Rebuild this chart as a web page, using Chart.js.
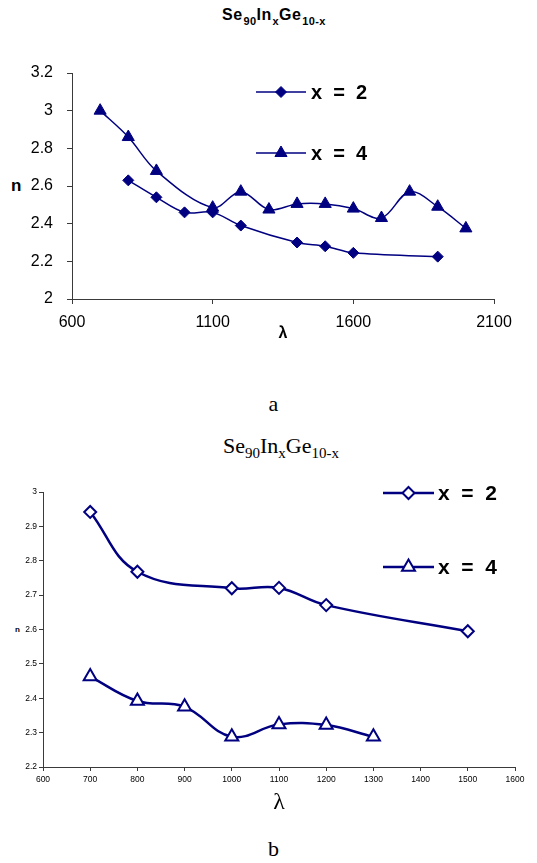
<!DOCTYPE html>
<html><head><meta charset="utf-8">
<script src="https://cdn.jsdelivr.net/npm/chart.js@4.4.1/dist/chart.umd.min.js"></script>
<style>
html,body{margin:0;padding:0;background:#fff;}
#page{position:relative;width:537px;height:863px;overflow:hidden;background:#fff;}
.abs{position:absolute;white-space:nowrap;color:#000;line-height:1;}
.ta{font-family:"Liberation Sans",Arial,sans-serif;font-weight:bold;font-size:16px;letter-spacing:0.4px;}
.ta sub{font-size:11px;vertical-align:-5px;line-height:0;margin-left:1px;}
.tb{font-family:"Liberation Serif","Times New Roman",serif;font-size:22px;}
.tb sub{font-size:15px;vertical-align:-5px;line-height:0;}
.cap{font-family:"Liberation Serif","Times New Roman",serif;font-size:22px;}
.box{position:absolute;left:0;width:537px;}
</style>
</head>
<body>
<div id="page">
  <div class="abs ta" style="left:0;width:548px;text-align:center;top:7px;">Se<sub>90</sub>In<sub>x</sub>Ge<sub>10-x</sub></div>
  <div class="abs" style="left:11px;top:176px;font:bold 17px 'Liberation Sans',Arial,sans-serif;">n</div>
  <div class="box" style="top:40px;height:310px;"><canvas id="chartA"></canvas></div>
  <div class="abs cap" style="left:0;width:547px;text-align:center;top:393px;">a</div>
  <div class="abs tb" style="left:0;width:562px;text-align:center;top:435px;">Se<sub>90</sub>In<sub>x</sub>Ge<sub>10-x</sub></div>
  <div class="abs" style="left:15px;top:625px;font:bold 8px 'Liberation Sans',Arial,sans-serif;">n</div>
  <div class="box" style="top:470px;height:350px;"><canvas id="chartB"></canvas></div>
  <div class="abs cap" style="left:0;width:547px;text-align:center;top:838px;">b</div>
</div>
<script>
// ---- data (chart a) ----
const lambdaA_x2 = [800, 900, 1000, 1100, 1200, 1400, 1500, 1600, 1900];
const nA_x2      = [2.63, 2.54, 2.46, 2.46, 2.39, 2.30, 2.28, 2.245, 2.225];
const lambdaA_x4 = [700, 800, 900, 1100, 1200, 1300, 1400, 1500, 1600, 1700, 1800, 1900, 2000];
const nA_x4      = [3.00, 2.86, 2.68, 2.485, 2.57, 2.475, 2.505, 2.505, 2.48, 2.43, 2.57, 2.49, 2.375];
const xTicksA = [600, 1100, 1600, 2100];
const yTicksA = [2, 2.2, 2.4, 2.6, 2.8, 3, 3.2];
// ---- data (chart b) ----
const lambdaB_x2 = [700, 800, 1000, 1100, 1200, 1500];
const nB_x2      = [2.942, 2.768, 2.72, 2.721, 2.671, 2.595];
const lambdaB_x4 = [700, 800, 900, 1000, 1100, 1200, 1300];
const nB_x4      = [2.463, 2.392, 2.375, 2.288, 2.324, 2.322, 2.288];
const xTicksB = [600, 700, 800, 900, 1000, 1100, 1200, 1300, 1400, 1500, 1600];
const yTicksB = [2.2, 2.3, 2.4, 2.5, 2.6, 2.7, 2.8, 2.9, 3];
const seriesLabels = ['x = 2', 'x = 4'];

const NAVY = '#000080';
const AXIS = '#3a3a3a';
const SANS = "'Liberation Sans', Arial, sans-serif";
const SERIF = "'Liberation Serif', 'Times New Roman', serif";

const pts = (xs, ys) => xs.map((x, i) => ({x, y: ys[i]}));
const setTicks = arr => s => { s.ticks = arr.map(v => ({value: v})); };

function drawMarker(ctx, style, r, x, y, fill, bw) {
  ctx.save();
  ctx.fillStyle = fill; ctx.strokeStyle = NAVY; ctx.lineWidth = bw;
  ctx.beginPath();
  if (style === 'rectRot') {
    ctx.moveTo(x, y - r); ctx.lineTo(x + r, y); ctx.lineTo(x, y + r); ctx.lineTo(x - r, y); ctx.closePath();
  } else {
    const a = Math.PI * 2 / 3;
    ctx.moveTo(x, y - r);
    ctx.lineTo(x + Math.sin(a) * r, y - Math.cos(a) * r);
    ctx.lineTo(x - Math.sin(a) * r, y - Math.cos(a) * r);
    ctx.closePath();
  }
  ctx.fill();
  if (bw > 0) ctx.stroke();
  ctx.restore();
}

const lineLegend = {
  id: 'lineLegend',
  afterDatasetsDraw(chart, args, o) {
    const ctx = chart.ctx;
    chart.data.datasets.forEach((ds, i) => {
      const y = o.ys[i];
      ctx.save();
      ctx.strokeStyle = NAVY; ctx.lineWidth = ds.borderWidth;
      ctx.beginPath(); ctx.moveTo(o.x0, y); ctx.lineTo(o.x1, y); ctx.stroke();
      ctx.restore();
      drawMarker(ctx, ds.pointStyle, ds.pointRadius, (o.x0 + o.x1) / 2, y, ds.pointBackgroundColor, ds.pointBorderWidth);
      ctx.save();
      ctx.fillStyle = '#000'; ctx.font = 'bold ' + o.size + 'px ' + SANS;
      ctx.textBaseline = 'middle'; ctx.textAlign = 'left';
      ctx.fillText(ds.label.replace(/ /g, '  '), o.tx, y + 1);
      ctx.restore();
    });
  }
};

function makeChart(id, cfg) {
  return new Chart(document.getElementById(id), {
    type: 'line',
    data: {datasets: cfg.datasets},
    plugins: [lineLegend],
    options: {
      responsive: true, maintainAspectRatio: false, animation: false,
      devicePixelRatio: 1,
      layout: {padding: cfg.padding},
      plugins: {legend: {display: false}, tooltip: {enabled: false}, title: {display: false},
                lineLegend: cfg.legend},
      scales: {
        x: {
          type: 'linear', min: cfg.xTicks[0], max: cfg.xTicks[cfg.xTicks.length - 1],
          afterBuildTicks: setTicks(cfg.xTicks),
          afterFit: s => { s.height = cfg.xH; },
          grid: {drawOnChartArea: false, drawTicks: true, tickLength: cfg.tl, color: AXIS},
          border: {color: AXIS, width: 1},
          ticks: {color: '#000', font: {family: SANS, size: cfg.tickSize}, padding: cfg.xPad,
                  maxRotation: 0, autoSkip: false, callback: v => String(v)},
          title: {display: true, text: 'λ', color: '#000', font: cfg.lamFont,
                  padding: {top: 0, bottom: cfg.lamPad}}
        },
        y: {
          min: cfg.yTicks[0], max: cfg.yTicks[cfg.yTicks.length - 1],
          afterBuildTicks: setTicks(cfg.yTicks),
          afterFit: s => { s.width = cfg.yW; },
          grid: {drawOnChartArea: false, drawTicks: true, tickLength: cfg.tl, color: AXIS},
          border: {color: AXIS, width: 1},
          ticks: {color: '#000', font: {family: SANS, size: cfg.tickSize}, padding: cfg.yPad,
                  autoSkip: false, callback: v => String(v)}
        }
      }
    }
  });
}

makeChart('chartA', {
  datasets: [
    {label: seriesLabels[0], data: pts(lambdaA_x2, nA_x2), borderColor: NAVY, borderWidth: 1.5,
     pointStyle: 'rectRot', pointRadius: 5.5, pointBackgroundColor: NAVY, pointBorderColor: NAVY,
     pointBorderWidth: 1, tension: 0.35, clip: false},
    {label: seriesLabels[1], data: pts(lambdaA_x4, nA_x4), borderColor: NAVY, borderWidth: 1.5,
     pointStyle: 'triangle', pointRadius: 7, pointBackgroundColor: NAVY, pointBorderColor: NAVY,
     pointBorderWidth: 1, tension: 0.35, clip: false}
  ],
  padding: {top: 33, right: 43, left: 0, bottom: 0},
  xTicks: xTicksA, yTicks: yTicksA, xH: 51, yW: 72, tl: 5, tickSize: 16, xPad: 9, yPad: 14,
  lamFont: {family: SANS, size: 16, weight: 'bold'}, lamPad: 7,
  legend: {x0: 256, x1: 306, ys: [52, 113], tx: 311, size: 20}
});

makeChart('chartB', {
  datasets: [
    {label: seriesLabels[0], data: pts(lambdaB_x2, nB_x2), borderColor: NAVY, borderWidth: 2.5,
     pointStyle: 'rectRot', pointRadius: 6, pointBackgroundColor: '#fff', pointBorderColor: NAVY,
     pointBorderWidth: 2, tension: 0.4, clip: false},
    {label: seriesLabels[1], data: pts(lambdaB_x4, nB_x4), borderColor: NAVY, borderWidth: 2.5,
     pointStyle: 'triangle', pointRadius: 7.5, pointBackgroundColor: '#fff', pointBorderColor: NAVY,
     pointBorderWidth: 2, tension: 0.4, clip: false}
  ],
  padding: {top: 22, right: 22, left: 0, bottom: 0},
  xTicks: xTicksB, yTicks: yTicksB, xH: 53, yW: 43, tl: 4, tickSize: 8.5, xPad: 4, yPad: 2,
  lamFont: {family: SERIF, size: 24}, lamPad: 3,
  legend: {x0: 383, x1: 434, ys: [23, 97], tx: 438, size: 21}
});
</script>
</body></html>
